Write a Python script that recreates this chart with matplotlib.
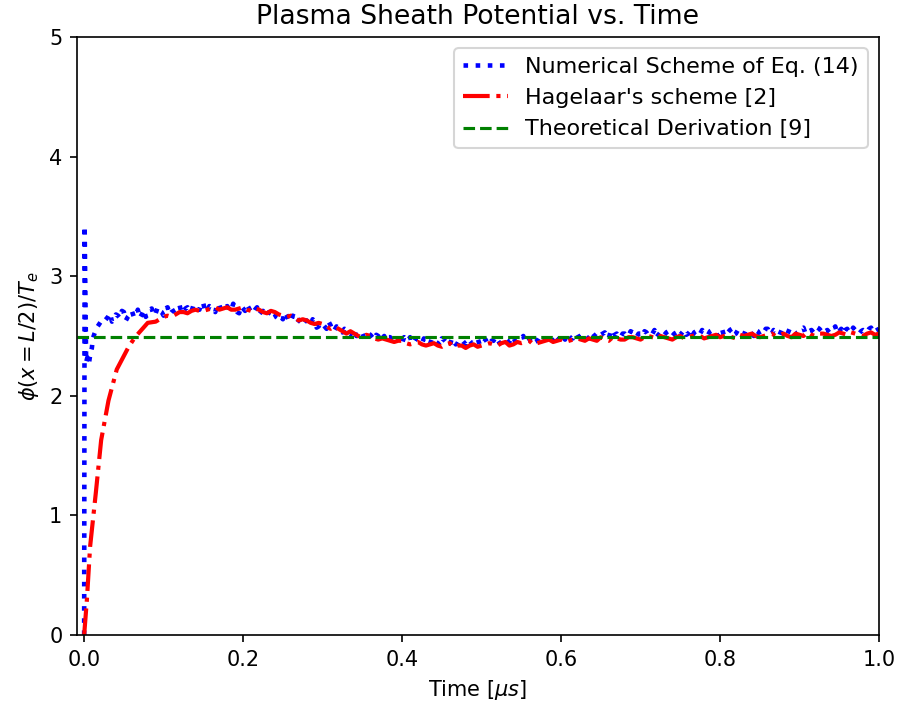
import numpy as np
import matplotlib
matplotlib.use("Agg")
import matplotlib.pyplot as plt

# ---- data ----
# Numerical scheme of Eq. (14): early transient (explicit times) + noisy plateau
num_t_early = [0.0, 0.0006, 0.0025, 0.004, 0.006, 0.008, 0.0097, 0.011, 0.013, 0.016, 0.019, 0.022, 0.025]
num_phi_early = [0.0, 3.42, 2.28, 2.32, 2.27, 2.36, 2.40, 2.48, 2.52, 2.57, 2.60, 2.63, 2.62]
# samples on the 0.030, 0.035, ... 1.000 grid
num_phi_a = [
    2.66, 2.62, 2.68, 2.65, 2.70, 2.66, 2.71, 2.67, 2.65, 2.72,
    2.68, 2.73, 2.69, 2.71, 2.67, 2.74, 2.70, 2.72, 2.76, 2.71,
    2.74, 2.70, 2.75, 2.72, 2.77, 2.71, 2.74, 2.70, 2.76, 2.73,
    2.75, 2.71, 2.74, 2.69, 2.73, 2.76, 2.70, 2.72, 2.68, 2.71,
    2.67, 2.70, 2.66, 2.68, 2.64, 2.67, 2.62, 2.66, 2.63, 2.60,
    2.63, 2.59, 2.62, 2.58, 2.60, 2.56, 2.59, 2.55, 2.57, 2.53,
    2.55, 2.51, 2.54, 2.50, 2.52, 2.49, 2.51, 2.47, 2.50, 2.48,
    2.46, 2.49, 2.45, 2.48, 2.44, 2.47, 2.49, 2.45, 2.47, 2.44,
    2.47, 2.43, 2.46, 2.44, 2.48, 2.45, 2.42, 2.46, 2.44, 2.47,
    2.43, 2.46, 2.44, 2.48, 2.45, 2.47, 2.43, 2.46, 2.48, 2.45,
    2.48, 2.45, 2.49, 2.46, 2.48, 2.44, 2.47, 2.49, 2.46, 2.50,
    2.47, 2.50, 2.46, 2.49, 2.51, 2.47, 2.50, 2.48, 2.52, 2.49,
    2.51, 2.48, 2.52, 2.49, 2.51, 2.53, 2.48, 2.50, 2.52, 2.49,
    2.52, 2.50, 2.53, 2.49, 2.52, 2.54, 2.50, 2.52, 2.49, 2.53,
    2.51, 2.54, 2.50, 2.53, 2.51, 2.55, 2.52, 2.50, 2.54, 2.52,
    2.53, 2.51, 2.55, 2.52, 2.54, 2.50, 2.53, 2.56, 2.52, 2.54,
    2.51, 2.54, 2.52, 2.55, 2.51, 2.53, 2.56, 2.52, 2.54, 2.51,
    2.54, 2.52, 2.55, 2.51, 2.54, 2.57, 2.52, 2.55, 2.53, 2.56,
    2.52, 2.55, 2.53, 2.58, 2.54, 2.52, 2.56, 2.53, 2.55, 2.52,
    2.55, 2.53, 2.57, 2.54, 2.56,
]
# samples on the 0.0325, 0.0375, ... 0.9975 grid
num_phi_b = [
    2.69, 2.64, 2.67, 2.71, 2.63, 2.68, 2.66, 2.72, 2.68, 2.66,
    2.72, 2.67, 2.74, 2.70, 2.73, 2.68, 2.71, 2.75, 2.69, 2.73,
    2.71, 2.76, 2.72, 2.78, 2.70, 2.75, 2.73, 2.77, 2.71, 2.74,
    2.72, 2.77, 2.70, 2.75, 2.71, 2.73, 2.69, 2.74, 2.70, 2.68,
    2.70, 2.65, 2.69, 2.66, 2.70, 2.63, 2.67, 2.61, 2.64, 2.62,
    2.60, 2.64, 2.57, 2.61, 2.58, 2.62, 2.54, 2.58, 2.55, 2.56,
    2.52, 2.56, 2.50, 2.53, 2.48, 2.52, 2.49, 2.51, 2.46, 2.50,
    2.49, 2.45, 2.47, 2.43, 2.49, 2.46, 2.44, 2.48, 2.45, 2.48,
    2.44, 2.48, 2.45, 2.42, 2.47, 2.44, 2.48, 2.43, 2.47, 2.45,
    2.47, 2.44, 2.47, 2.43, 2.48, 2.44, 2.46, 2.49, 2.44, 2.47,
    2.46, 2.49, 2.45, 2.47, 2.50, 2.46, 2.48, 2.45, 2.49, 2.47,
    2.50, 2.48, 2.51, 2.47, 2.49, 2.52, 2.48, 2.51, 2.49, 2.51,
    2.49, 2.53, 2.50, 2.48, 2.52, 2.50, 2.54, 2.51, 2.49, 2.52,
    2.50, 2.54, 2.51, 2.52, 2.50, 2.53, 2.51, 2.55, 2.51, 2.50,
    2.53, 2.51, 2.52, 2.55, 2.53, 2.51, 2.54, 2.53, 2.51, 2.55,
    2.51, 2.54, 2.53, 2.50, 2.56, 2.52, 2.55, 2.51, 2.55, 2.53,
    2.55, 2.53, 2.50, 2.54, 2.53, 2.56, 2.51, 2.55, 2.53, 2.55,
    2.53, 2.56, 2.53, 2.53, 2.56, 2.52, 2.54, 2.53, 2.57, 2.54,
    2.54, 2.53, 2.56, 2.52, 2.56, 2.55, 2.53, 2.57, 2.52, 2.54,
    2.54, 2.56, 2.53, 2.55,
]
num_t_a = np.linspace(0.03, 1.0, len(num_phi_a))
num_t_b = np.linspace(0.0325, 0.9975, len(num_phi_b))

# Hagelaar's scheme
hag_t_early = [0.0, 0.0034, 0.0075, 0.0147, 0.0214, 0.0306, 0.041, 0.056, 0.064, 0.072, 0.08]
hag_phi_early = [0.0, 0.29, 0.74, 1.19, 1.63, 1.96, 2.22, 2.41, 2.49, 2.55, 2.61]
# samples on the 0.09, 0.10, ... 1.00 grid
hag_phi_a = [
    2.62, 2.66, 2.66, 2.70, 2.69, 2.72, 2.71, 2.73, 2.72, 2.74,
    2.72, 2.74, 2.71, 2.72, 2.69, 2.70, 2.67, 2.67, 2.63, 2.63,
    2.60, 2.60, 2.56, 2.56, 2.52, 2.52, 2.49, 2.50, 2.47, 2.47,
    2.45, 2.46, 2.43, 2.45, 2.42, 2.44, 2.41, 2.44, 2.42, 2.40,
    2.43, 2.42, 2.44, 2.42, 2.45, 2.43, 2.44, 2.46, 2.44, 2.46,
    2.45, 2.47, 2.46, 2.48, 2.46, 2.47, 2.49, 2.46, 2.48, 2.47,
    2.49, 2.47, 2.50, 2.48, 2.49, 2.47, 2.50, 2.49, 2.51, 2.48,
    2.50, 2.49, 2.51, 2.48, 2.50, 2.52, 2.49, 2.51, 2.50, 2.52,
    2.49, 2.51, 2.53, 2.50, 2.52, 2.50, 2.53, 2.51, 2.52, 2.50,
    2.53, 2.52,
]
# samples on the 0.095, 0.105, ... 0.995 grid
hag_phi_b = [
    2.64, 2.67, 2.68, 2.70, 2.71, 2.71, 2.72, 2.74, 2.73, 2.72,
    2.73, 2.72, 2.73, 2.70, 2.71, 2.68, 2.66, 2.65, 2.64, 2.61,
    2.61, 2.58, 2.58, 2.54, 2.54, 2.50, 2.51, 2.48, 2.48, 2.46,
    2.46, 2.44, 2.44, 2.43, 2.43, 2.42, 2.43, 2.41, 2.42, 2.42,
    2.41, 2.43, 2.43, 2.44, 2.42, 2.45, 2.45, 2.43, 2.45, 2.47,
    2.46, 2.45, 2.47, 2.47, 2.48, 2.46, 2.47, 2.49, 2.47, 2.49,
    2.48, 2.49, 2.49, 2.50, 2.48, 2.49, 2.48, 2.50, 2.50, 2.49,
    2.51, 2.50, 2.49, 2.51, 2.51, 2.50, 2.50, 2.52, 2.51, 2.50,
    2.52, 2.50, 2.51, 2.52, 2.51, 2.51, 2.52, 2.53, 2.51, 2.52,
    2.51,
]
hag_t_a = np.linspace(0.09, 1.0, len(hag_phi_a))
hag_t_b = np.linspace(0.095, 0.995, len(hag_phi_b))

# Theoretical derivation
theory_phi = 2.49

x_ticks = [0.0, 0.2, 0.4, 0.6, 0.8, 1.0]
y_ticks = [0, 1, 2, 3, 4, 5]


def merge(t_parts, v_parts):
    t = np.concatenate([np.asarray(p, float) for p in t_parts])
    v = np.concatenate([np.asarray(p, float) for p in v_parts])
    order = np.argsort(t, kind="stable")
    return t[order], v[order]


num_t, num_phi = merge([num_t_early, num_t_a, num_t_b], [num_phi_early, num_phi_a, num_phi_b])
hag_t, hag_phi = merge([hag_t_early, hag_t_a, hag_t_b], [hag_phi_early, hag_phi_a, hag_phi_b])

# ---- plot ----
fig = plt.figure(figsize=(902 / 150, 709 / 150), dpi=150)
ax = fig.add_axes([77 / 902, 1 - 635 / 709, (879 - 77) / 902, (635 - 37) / 709])

ax.plot(num_t, num_phi, color="blue", linestyle=":", linewidth=2.2,
        label="Numerical Scheme of Eq. (14)")
ax.plot(hag_t, hag_phi, color="red", linestyle="-.", linewidth=2.0,
        label="Hagelaar's scheme [2]")
ax.axhline(theory_phi, color="green", linestyle="--", linewidth=1.5,
           label="Theoretical Derivation [9]")

ax.set_xlim(-0.009, 1.0)
ax.set_ylim(0, 5)
ax.set_xticks(x_ticks)
ax.set_yticks(y_ticks)
ax.set_xlabel(r"Time [$\mu s$]")
ax.set_ylabel(r"$\phi(x=L/2)/T_e$")
ax.set_title("Plasma Sheath Potential vs. Time", fontsize=12.8)
ax.legend(loc="upper right", fontsize=10.7)

fig.savefig("out.png", dpi=150)
